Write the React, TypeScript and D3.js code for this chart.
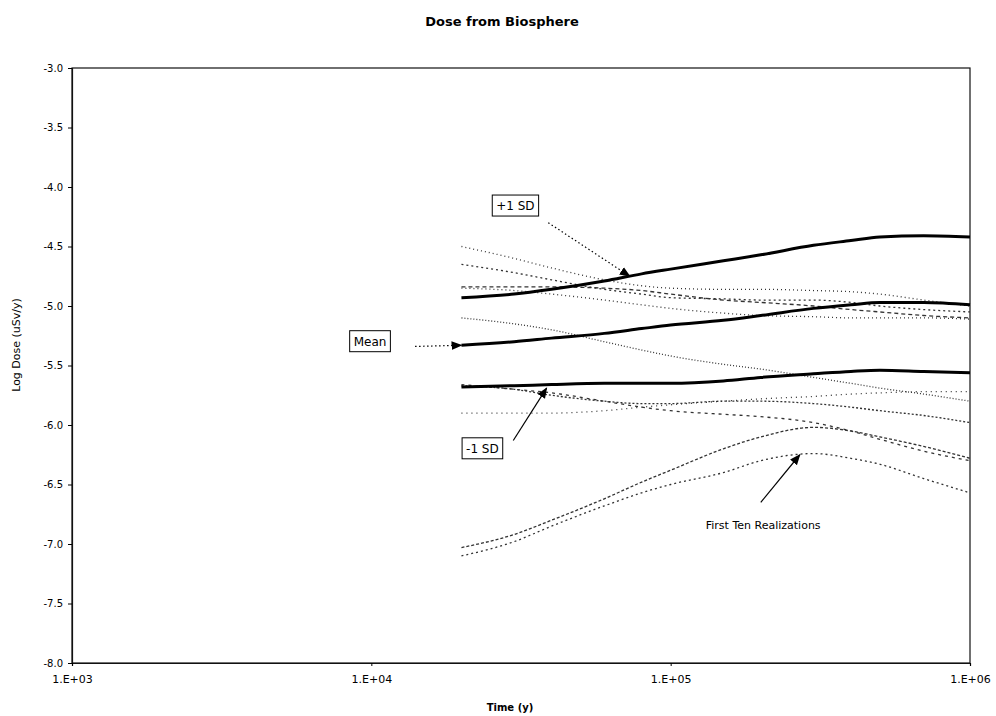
import { useEffect, useRef } from 'react';
import * as d3 from 'd3';

// time points (years) shared by every series
const times = [2e4, 3e4, 4e4, 6e4, 8e4, 1e5, 1.5e5, 2e5, 3e5, 4e5, 5e5, 7e5, 1e6];

// summary curves, log dose (uSv/y)
const meanDose = [-5.33, -5.3, -5.27, -5.23, -5.19, -5.16, -5.12, -5.08, -5.02, -4.99, -4.97, -4.97, -4.99];
const plusSD = [-4.93, -4.9, -4.86, -4.79, -4.73, -4.69, -4.62, -4.57, -4.49, -4.45, -4.42, -4.41, -4.42];
const minusSD = [-5.68, -5.67, -5.66, -5.65, -5.65, -5.65, -5.63, -5.6, -5.57, -5.55, -5.54, -5.55, -5.56];

// first ten realizations
const real1 = [-4.5, -4.6, -4.68, -4.78, -4.83, -4.85, -4.86, -4.86, -4.87, -4.88, -4.9, -4.95, -5.0];
const real2 = [-4.65, -4.72, -4.78, -4.86, -4.9, -4.93, -4.94, -4.95, -4.95, -4.97, -5.0, -5.03, -5.05];
const real3 = [-4.84, -4.84, -4.84, -4.85, -4.87, -4.9, -4.95, -4.97, -5.0, -5.03, -5.05, -5.08, -5.1];
const real4 = [-5.1, -5.15, -5.2, -5.3, -5.37, -5.42, -5.49, -5.53, -5.6, -5.65, -5.69, -5.74, -5.8];
const real5 = [-5.66, -5.7, -5.73, -5.8, -5.85, -5.88, -5.91, -5.93, -5.98, -6.05, -6.12, -6.22, -6.3];
const real6 = [-5.67, -5.7, -5.75, -5.8, -5.82, -5.82, -5.8, -5.8, -5.82, -5.85, -5.88, -5.92, -5.98];
const real7 = [-5.9, -5.9, -5.9, -5.88, -5.85, -5.83, -5.8, -5.78, -5.76, -5.74, -5.73, -5.72, -5.72];
const real8 = [-7.03, -6.92, -6.8, -6.62, -6.48, -6.38, -6.2, -6.1, -6.02, -6.05, -6.1, -6.18, -6.28];
const real9 = [-7.1, -6.98, -6.85, -6.68, -6.57, -6.5, -6.4, -6.3, -6.24, -6.28, -6.33, -6.45, -6.57];
const real10 = [-4.85, -4.87, -4.9, -4.95, -4.99, -5.02, -5.06, -5.08, -5.09, -5.1, -5.1, -5.1, -5.11];

const realizations = [real1, real2, real3, real4, real5, real6, real7, real8, real9, real10];

const xTicks = [1e3, 1e4, 1e5, 1e6];
const xTickLabels = ['1.E+03', '1.E+04', '1.E+05', '1.E+06'];
const yTicks = [-3, -3.5, -4, -4.5, -5, -5.5, -6, -6.5, -7, -7.5, -8];

const dashes = ['1,3', '2,3', '4,3', '1,2', '3,4', '2,2', '1,4', '3,2', '2,3', '1,3'];

const FONT = 'DejaVu Sans, Arial, sans-serif';

const W = 996;
const H = 716;
const margin = { top: 68, right: 26, bottom: 53, left: 72 };

const App = () => {
  const svgRef = useRef<SVGSVGElement>(null);

  useEffect(() => {
    const svg = d3.select(svgRef.current);
    svg.selectAll('*').remove();

    const x = d3.scaleLog().domain([1e3, 1e6]).range([margin.left, W - margin.right]);
    const y = d3.scaleLinear().domain([-8, -3]).range([H - margin.bottom, margin.top]);

    const defs = svg.append('defs');
    defs
      .append('marker')
      .attr('id', 'head')
      .attr('viewBox', '0 0 10 10')
      .attr('refX', 9)
      .attr('refY', 5)
      .attr('markerWidth', 11)
      .attr('markerHeight', 11)
      .attr('markerUnits', 'userSpaceOnUse')
      .attr('orient', 'auto')
      .append('path')
      .attr('d', 'M0,1 L10,5 L0,9 Z')
      .attr('fill', '#000');

    // title
    svg
      .append('text')
      .attr('x', 502)
      .attr('y', 26)
      .attr('text-anchor', 'middle')
      .style('font-family', FONT)
      .style('font-size', '13px')
      .style('font-weight', 'bold')
      .text('Dose from Biosphere');

    // plot frame
    svg
      .append('rect')
      .attr('x', x(1e3))
      .attr('y', y(-3))
      .attr('width', x(1e6) - x(1e3))
      .attr('height', y(-8) - y(-3))
      .attr('fill', 'none')
      .attr('stroke', '#111')
      .attr('stroke-width', 1.2);

    // y axis
    const yAxis = svg
      .append('g')
      .attr('transform', `translate(${x(1e3)},0)`)
      .call(
        d3
          .axisLeft(y)
          .tickValues(yTicks)
          .tickSize(4)
          .tickPadding(5)
          .tickFormat((d) => d3.format('.1f')(d as number).replace('−', '-'))
      );
    yAxis.select('.domain').attr('stroke', '#111').attr('stroke-width', 1.2);
    yAxis.selectAll('text').style('font-family', FONT).style('font-size', '10px').attr('fill', '#000');

    // x axis
    const xAxis = svg
      .append('g')
      .attr('transform', `translate(0,${y(-8)})`)
      .call(
        d3
          .axisBottom(x)
          .tickValues(xTicks)
          .tickSize(3)
          .tickPadding(9)
          .tickFormat((d, i) => xTickLabels[i])
      );
    xAxis.select('.domain').attr('stroke', '#111').attr('stroke-width', 1.2);
    xAxis.selectAll('text').style('font-family', FONT).style('font-size', '11px').attr('fill', '#000');

    // axis titles
    svg
      .append('text')
      .attr('transform', `translate(20,${345}) rotate(-90)`)
      .attr('text-anchor', 'middle')
      .style('font-family', FONT)
      .style('font-size', '11px')
      .text('Log Dose (uSv/y)');
    svg
      .append('text')
      .attr('x', 510)
      .attr('y', 711)
      .attr('text-anchor', 'middle')
      .style('font-family', FONT)
      .style('font-size', '10px')
      .style('font-weight', 'bold')
      .text('Time (y)');

    const line = d3
      .line<number>()
      .x((d, i) => x(times[i]))
      .y((d) => y(d))
      .curve(d3.curveMonotoneX);

    // realizations
    svg
      .append('g')
      .selectAll('path')
      .data(realizations)
      .enter()
      .append('path')
      .attr('d', (d) => line(d))
      .attr('fill', 'none')
      .attr('stroke', '#333')
      .attr('stroke-width', 1.3)
      .attr('stroke-dasharray', (d, i) => dashes[i]);

    // mean and +/- 1 SD
    svg
      .append('g')
      .selectAll('path')
      .data([plusSD, meanDose, minusSD])
      .enter()
      .append('path')
      .attr('d', (d) => line(d))
      .attr('fill', 'none')
      .attr('stroke', '#000')
      .attr('stroke-width', 3);

    // annotations (data coordinates)
    const boxes = [
      { label: '+1 SD', t: 3.03e4, v: -4.16 },
      { label: 'Mean', t: 9.9e3, v: -5.3 },
      { label: '-1 SD', t: 2.35e4, v: -6.2 },
    ];
    boxes.forEach((b) => {
      const g = svg.append('g');
      const txt = g
        .append('text')
        .attr('x', x(b.t))
        .attr('y', y(b.v) + 4)
        .attr('text-anchor', 'middle')
        .style('font-family', FONT)
        .style('font-size', '12px')
        .text(b.label);
      const bb = (txt.node() as SVGTextElement).getBBox();
      g.insert('rect', 'text')
        .attr('x', bb.x - 4)
        .attr('y', bb.y - 4)
        .attr('width', bb.width + 8)
        .attr('height', bb.height + 7)
        .attr('fill', '#fff')
        .attr('stroke', '#000')
        .attr('stroke-width', 1);
    });

    const arrows = [
      { t0: 3.9e4, v0: -4.3, t1: 7.3e4, v1: -4.75, dash: '1.5,2.5' },
      { t0: 1.4e4, v0: -5.34, t1: 2e4, v1: -5.33, dash: '1.5,2.5' },
      { t0: 2.98e4, v0: -6.13, t1: 3.85e4, v1: -5.69, dash: null },
      { t0: 2.0e5, v0: -6.65, t1: 2.7e5, v1: -6.25, dash: null },
    ];
    arrows.forEach((a) => {
      svg
        .append('line')
        .attr('x1', x(a.t0))
        .attr('y1', y(a.v0))
        .attr('x2', x(a.t1))
        .attr('y2', y(a.v1))
        .attr('stroke', '#000')
        .attr('stroke-width', 1.2)
        .attr('stroke-dasharray', a.dash)
        .attr('marker-end', 'url(#head)');
    });

    svg
      .append('text')
      .attr('x', x(1.31e5))
      .attr('y', y(-6.87))
      .style('font-family', FONT)
      .style('font-size', '11px')
      .text('First Ten Realizations');
  }, []);

  return (
    <svg
      ref={svgRef}
      width={W}
      height={H}
      style={{ position: 'absolute', left: 0, top: 0, background: '#fff' }}
    />
  );
};

export default App;
